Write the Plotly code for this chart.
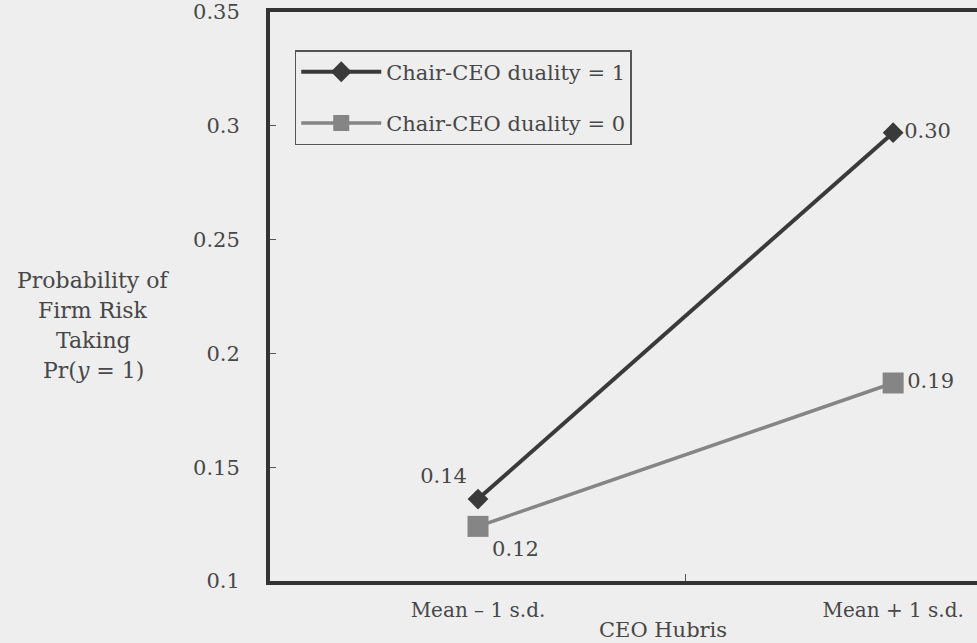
import plotly.graph_objects as go

categories = ["Mean – 1 s.d.", "Mean + 1 s.d."]
x_pos = [0, 1]
duality1 = [0.136, 0.297]
duality0 = [0.124, 0.187]
y_ticks = [0.1, 0.15, 0.2, 0.25, 0.3, 0.35]
y_ticktext = ["0.1", "0.15", "0.2", "0.25", "0.3", "0.35"]
ylabel_lines = ["Probability of", "Firm Risk", "Taking", "Pr(<i>y</i> = 1)"]

FONT = "DejaVu Serif"
BG = "#eeeeee"
TXT = "#474747"

fig = go.Figure()
fig.add_trace(go.Scatter(
    x=x_pos, y=duality1, mode="lines+markers+text",
    name="Chair-CEO duality = 1", legendgroup="a",
    line=dict(color="#3a3a3a", width=4),
    marker=dict(symbol="diamond", size=16, color="#3a3a3a"),
    texttemplate="%{y:.2f}", textposition=["top left", "middle right"],
    textfont=dict(family=FONT, size=21, color=TXT),
))
fig.add_trace(go.Scatter(
    x=x_pos, y=duality0, mode="lines+markers+text",
    name="Chair-CEO duality = 0", legendgroup="b",
    line=dict(color="#858585", width=3.5),
    marker=dict(symbol="square", size=21, color="#858585"),
    texttemplate="%{y:.2f}", textposition=["bottom right", "middle right"],
    textfont=dict(family=FONT, size=21, color=TXT),
))

for i, line in enumerate(ylabel_lines):
    fig.add_annotation(
        xref="paper", yref="y", x=-0.25, y=0.232 - i * 0.0132,
        text=line, showarrow=False, xanchor="center", yanchor="middle",
        font=dict(family=FONT, size=22, color=TXT),
    )

fig.add_annotation(
    xref="paper", yref="paper", x=0.556, y=-0.086, text="CEO Hubris",
    showarrow=False, xanchor="center", yanchor="middle",
    font=dict(family=FONT, size=21, color=TXT),
)

fig.update_layout(
    width=977, height=643,
    margin=dict(l=270, r=0, t=12, b=62),
    paper_bgcolor=BG, plot_bgcolor=BG,
    showlegend=True,
    legend=dict(
        x=0.035, y=0.933, xanchor="left", yanchor="top",
        bgcolor=BG, bordercolor="#555555", borderwidth=1.5,
        font=dict(family=FONT, size=21, color=TXT),
        tracegroupgap=21, itemwidth=80,
    ),
    xaxis=dict(
        range=[-0.501, 1.202], tickvals=x_pos, ticktext=categories,
        ticks="", showgrid=False, zeroline=False, ticklabelstandoff=8,
        showline=True, linecolor="#333333", linewidth=4, mirror=True,
        tickfont=dict(family=FONT, size=20, color=TXT),
        minor=dict(tickvals=[0.5], ticks="inside", ticklen=7, tickwidth=1, tickcolor="#555555"),
    ),
    yaxis=dict(
        range=[0.1, 0.35], tickvals=y_ticks, ticktext=y_ticktext,
        ticks="inside", ticklen=6, tickwidth=1, tickcolor="#555555",
        showgrid=False, zeroline=False, ticklabelstandoff=22,
        showline=True, linecolor="#333333", linewidth=4,
        tickfont=dict(family=FONT, size=21, color=TXT),
    ),
)

fig.write_html(
    "out.html",
    config={"displayModeBar": False},
    post_script="document.body.style.margin='0';document.body.style.background='#eeeeee';",
)
